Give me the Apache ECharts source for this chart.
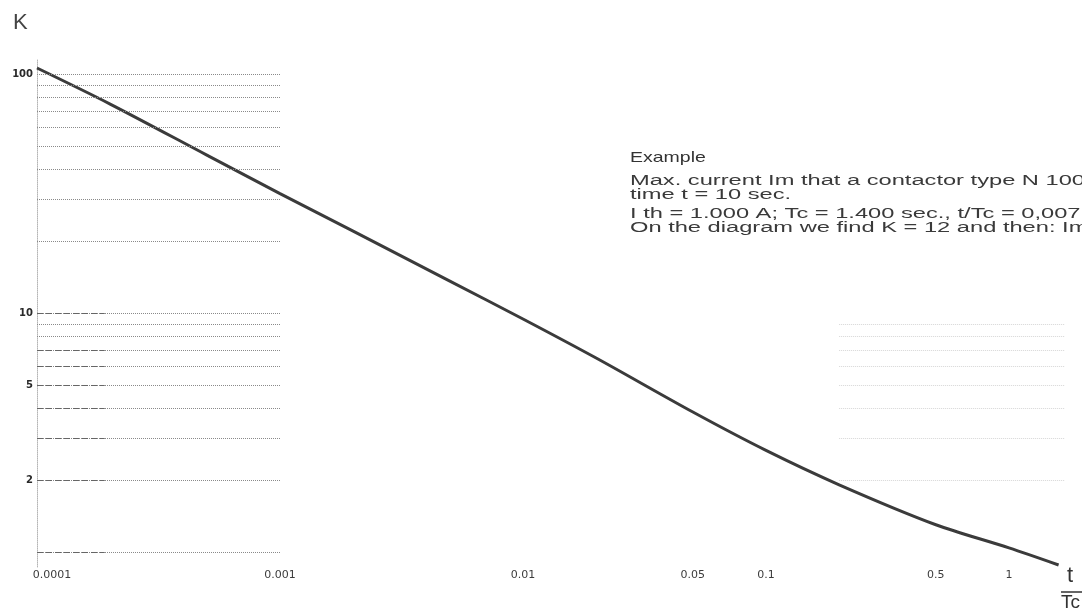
<!DOCTYPE html>
<html>
<head>
<meta charset="utf-8">
<style>
  html, body { margin: 0; padding: 0; background: #ffffff; }
  #chart { width: 1082px; height: 615px; }
</style>
<script src="https://cdn.jsdelivr.net/npm/echarts@6/dist/echarts.min.js"></script>
</head>
<body>
<div id="chart"></div>
<script>
// ---- data (t/Tc vs K, log-log) ----
const tRatio = [0.0001, 0.0002, 0.0005, 0.001, 0.002, 0.005, 0.01, 0.02, 0.05, 0.1, 0.2, 0.5, 1, 1.6];
const kValues = [106, 74.9, 45.8, 31.6, 22.0, 13.6, 9.44, 6.48, 3.85, 2.66, 1.91, 1.30, 1.04, 0.882];

const xTickValues = [0.0001, 0.001, 0.01, 0.05, 0.1, 0.5, 1];
const xTickLabels = ['0.0001', '0.001', '0.01', '0.05', '0.1', '0.5', '1'];
const yTickValues = [2, 5, 10, 100];
const yTickLabels = ['2', '5', '10', '100'];

// partial dotted grid rows (left decade of the printed grid)
const gridRowsK = [1, 2, 3, 4, 5, 6, 7, 8, 9, 10, 20, 30, 40, 50, 60, 70, 80, 90, 100];
const gridRowsFrom = 0.0001;
const gridRowsTo = 0.001;
// darker printed starts of some rows
const heavyRowsK = [1, 2, 3, 4, 5, 6, 7, 10];
const heavyRowsTo = 0.00019;
// faint rows on the right side
const faintRowsK = [2, 3, 4, 5, 6, 7, 8, 9];
const faintRowsFrom = 0.2;
const faintRowsTo = 1.7;

const exampleTitle = 'Example';
const exampleLines = [
  'Max. current Im that a contactor type N 100 can carry during the',
  'time t = 10 sec.',
  'I th = 1.000 A; Tc = 1.400 sec., t/Tc = 0,007',
  'On the diagram we find K = 12 and then: Im = 12 · 1.000 A'
];

function labelIndex(v, vals) {
  for (let i = 0; i < vals.length; i++) {
    if (Math.abs(Math.log10(v) - Math.log10(vals[i])) < 1e-6) return i;
  }
  return -1;
}

const chart = echarts.init(document.getElementById('chart'), null, { renderer: 'canvas' });

const rowsBetween = (ks, from, to) => ks.map(k => [{ coord: [from, k] }, { coord: [to, k] }]);

const option = {
  animation: false,
  backgroundColor: '#ffffff',
  grid: { left: 37, right: 17, top: 60, bottom: 48, containLabel: false },
  xAxis: {
    type: 'log',
    min: 0.0001,
    max: 1.7,
    logBase: 10,
    axisLine: { show: false },
    axisTick: { show: false },
    splitLine: { show: false },
    axisLabel: {
      customValues: xTickValues,
      formatter: v => {
        const i = labelIndex(v, xTickValues);
        if (i < 0) return '';
        return i === 0 ? '{first|' + xTickLabels[i] + '}' : xTickLabels[i];
      },
      rich: {
        first: { padding: [0, 0, 0, 30], fontSize: 11, color: '#3c3c3c', fontFamily: 'DejaVu Sans' }
      },
      color: '#3c3c3c',
      fontSize: 11,
      fontFamily: 'DejaVu Sans',
      margin: 3
    }
  },
  yAxis: {
    type: 'log',
    min: 0.865,
    max: 114.5,
    logBase: 10,
    axisLine: { show: true, lineStyle: { color: '#b5b5b5', width: 1, type: 'dotted' } },
    axisTick: { show: false },
    splitLine: { show: false },
    axisLabel: {
      customValues: yTickValues,
      formatter: v => {
        const i = labelIndex(v, yTickValues);
        return i < 0 ? '' : yTickLabels[i];
      },
      color: '#2a2a2a',
      fontSize: 10,
      fontWeight: 'bold',
      fontFamily: 'DejaVu Sans',
      margin: 4
    }
  },
  series: [
    {
      type: 'line',
      data: tRatio.map((t, i) => [t, kValues[i]]),
      smooth: 0.3,
      symbol: 'none',
      clip: false,
      lineStyle: { color: '#3b3b3b', width: 3 },
      markLine: {
        silent: true,
        symbol: ['none', 'none'],
        label: { show: false },
        lineStyle: { color: '#8a8a8a', width: 1, type: 'dotted' },
        data: rowsBetween(gridRowsK, gridRowsFrom, gridRowsTo)
      }
    },
    {
      type: 'line',
      data: [],
      markLine: {
        silent: true,
        symbol: ['none', 'none'],
        label: { show: false },
        lineStyle: { color: '#666', width: 1, type: [6, 3] },
        data: rowsBetween(heavyRowsK, gridRowsFrom, heavyRowsTo)
      }
    },
    {
      type: 'line',
      data: [],
      markLine: {
        silent: true,
        symbol: ['none', 'none'],
        label: { show: false },
        lineStyle: { color: '#d6d6d6', width: 1, type: 'dotted' },
        data: rowsBetween(faintRowsK, faintRowsFrom, faintRowsTo)
      }
    }
  ],
  graphic: [
    {
      type: 'text',
      x: 13, y: 12,
      style: { text: 'K', fontSize: 22, fontFamily: 'Liberation Sans', fill: '#444' }
    },
    {
      type: 'text',
      x: 630, y: 150,
      scaleX: 1.3,
      style: { text: exampleTitle, fontSize: 15, fontFamily: 'Liberation Sans', fill: '#333' }
    },
    {
      type: 'group',
      x: 630, y: 174,
      scaleX: 1.69,
      children: exampleLines.map((s, i) => ({
        type: 'text', x: 0, y: [0, 14, 33, 47][i],
        style: { text: s, fontSize: 14, fontFamily: 'Liberation Sans', fill: '#3a3a3a' }
      }))
    },
    {
      type: 'group',
      x: 1061, y: 566,
      children: [
        { type: 'text', x: 6, y: -1, style: { text: 't', fontSize: 22, fontFamily: 'Liberation Sans', fill: '#333' } },
        { type: 'line', shape: { x1: 0, y1: 26, x2: 24, y2: 26 }, style: { stroke: '#333', lineWidth: 1.5 } },
        { type: 'text', x: 0, y: 27, style: { text: 'Tc', fontSize: 19, fontFamily: 'Liberation Sans', fill: '#333' } }
      ]
    }
  ]
};

chart.setOption(option);
</script>
</body>
</html>
